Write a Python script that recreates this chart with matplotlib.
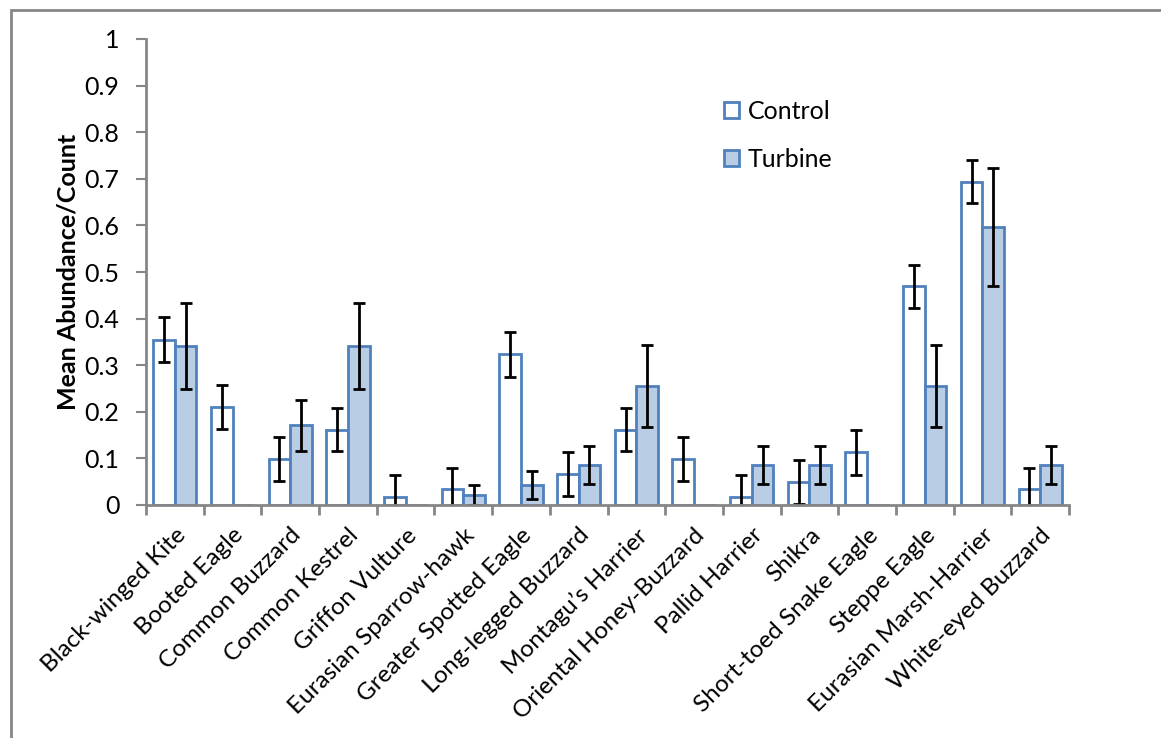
import numpy as np
import matplotlib
matplotlib.use("Agg")
import matplotlib.pyplot as plt
from matplotlib.patches import Rectangle

plt.rcParams['font.family'] = ['Lato', 'DejaVu Sans']

# species and values
species = ["Black-winged Kite", "Booted Eagle", "Common Buzzard", "Common Kestrel",
           "Griffon Vulture", "Eurasian Sparrow-hawk", "Greater Spotted Eagle",
           "Long-legged Buzzard", "Montagu\u2019s Harrier", "Oriental Honey-Buzzard",
           "Pallid Harrier", "Shikra", "Short-toed Snake Eagle", "Steppe Eagle",
           "Eurasian Marsh-Harrier", "White-eyed Buzzard"]
control = [0.355, 0.211, 0.098, 0.162, 0.017, 0.034, 0.323, 0.066,
           0.162, 0.098, 0.017, 0.050, 0.113, 0.469, 0.694, 0.034]
control_err = [0.048, 0.047, 0.047, 0.047, 0.047, 0.046, 0.048, 0.047,
               0.047, 0.047, 0.047, 0.047, 0.048, 0.047, 0.047, 0.046]
turbine = [0.341, 0, 0.171, 0.341, 0, 0.021, 0.043, 0.086,
           0.256, 0, 0.086, 0.086, 0, 0.256, 0.597, 0.086]
turbine_err = [0.093, 0, 0.055, 0.093, 0, 0.022, 0.030, 0.041,
               0.088, 0, 0.041, 0.041, 0, 0.088, 0.127, 0.041]

edge = "#4F81BD"
fill = "#B9CDE5"
grey = "#868686"

fig = plt.figure(figsize=(11.61, 7.38), dpi=100)
ax = fig.add_axes([146 / 1161, 1 - 505 / 738, 923 / 1161, 466 / 738])

x = np.arange(len(species))
w = 0.375
ax.bar(x - w / 2, control, w, color="white", edgecolor=edge, linewidth=2, label="Control")
ax.bar(x + w / 2, turbine, w, color=fill, edgecolor=edge, linewidth=2, label="Turbine")

# error bars (skip missing turbine values)
ax.errorbar(x - w / 2, control, yerr=control_err, fmt="none", ecolor="black",
            elinewidth=2, capsize=4.2, capthick=2)
tx = [xi + w / 2 for xi, e in zip(x, turbine_err) if e > 0]
ty = [t for t, e in zip(turbine, turbine_err) if e > 0]
te = [e for e in turbine_err if e > 0]
ax.errorbar(tx, ty, yerr=te, fmt="none", ecolor="black",
            elinewidth=2, capsize=4.2, capthick=2)

ax.set_xlim(-0.5, len(species) - 0.5)
ax.set_ylim(0, 1)
ax.set_yticks(np.arange(0, 1.01, 0.1))
ax.set_yticklabels(["0", "0.1", "0.2", "0.3", "0.4", "0.5", "0.6", "0.7", "0.8", "0.9", "1"])

ax.set_xticks(np.arange(len(species) + 1) - 0.5)
ax.set_xticklabels([])
ax.set_xticks(x, minor=True)
ax.set_xticklabels(species, minor=True, rotation=45, ha="right", rotation_mode="anchor",
                   fontsize=17.5)
ax.tick_params(axis="x", which="minor", length=0, pad=14)
ax.tick_params(axis="x", which="major", length=7, color=grey, width=2, direction="out")
ax.tick_params(axis="y", length=7, color=grey, width=1.5, labelsize=18, pad=12)

for s in ["top", "right"]:
    ax.spines[s].set_visible(False)
for s in ["left", "bottom"]:
    ax.spines[s].set_color(grey)
    ax.spines[s].set_linewidth(2)

ax.set_ylabel("Mean Abundance/Count", fontsize=18, fontweight="bold", labelpad=4)

ax.legend(loc="upper left", bbox_to_anchor=(0.602, 0.917), frameon=False, fontsize=18,
          handlelength=0.6, handleheight=0.6, labelspacing=1.0, handletextpad=0.35)

# outer chart frame
fig.patches.append(Rectangle((11 / 1161, -0.05), 1.1, 1 - 10 / 738 + 0.05,
                             transform=fig.transFigure, fill=False,
                             edgecolor=grey, linewidth=2))

fig.savefig("out.png", dpi=100)
